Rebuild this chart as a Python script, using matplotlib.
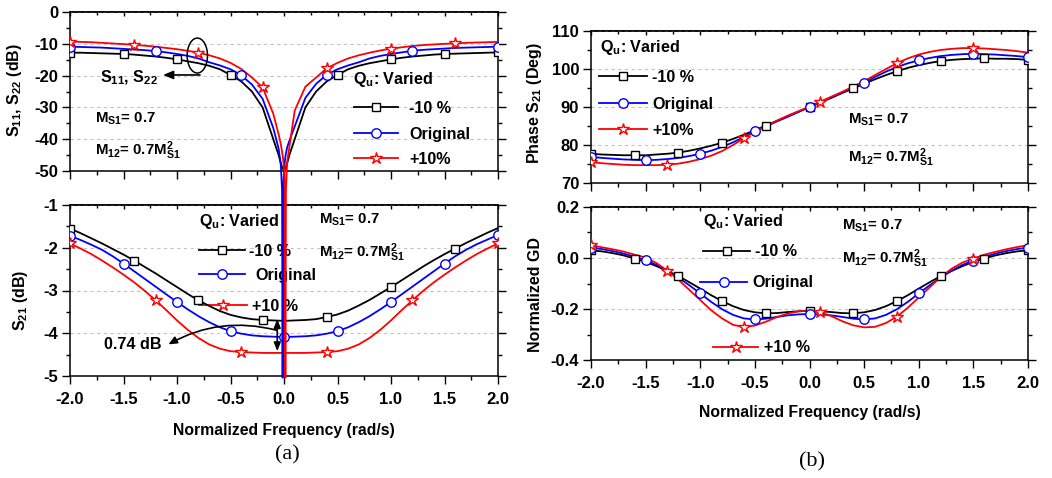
"""
Qu sensitivity of the filter response: S11/S22, S21, phase of S21 and
normalized group delay, for -10 %, original and +10 % unloaded Q.
"""

import numpy as np
import matplotlib
matplotlib.use("Agg")
import matplotlib.pyplot as plt
from matplotlib.patches import Ellipse
from matplotlib.transforms import Affine2D
from matplotlib.ticker import MultipleLocator, FormatStrFormatter

W, H = 1052, 478

# ---------------------------------------------------------------------------
# Data
# ---------------------------------------------------------------------------
FREQ = [-2.0, -1.9, -1.8, -1.7, -1.6, -1.5, -1.4, -1.3, -1.2, -1.1, -1.0,
        -0.9, -0.8, -0.7, -0.6, -0.5, -0.4, -0.3, -0.2, -0.1, 0.0,
        0.1, 0.2, 0.3, 0.4, 0.5, 0.6, 0.7, 0.8, 0.9, 1.0,
        1.1, 1.2, 1.3, 1.4, 1.5, 1.6, 1.7, 1.8, 1.9, 2.0]

# S11 needs extra samples round the notch
FREQ_S11 = [-2.0, -1.9, -1.8, -1.7, -1.6, -1.5, -1.4, -1.3, -1.2, -1.1, -1.0,
            -0.9, -0.8, -0.7, -0.6, -0.5, -0.4, -0.3, -0.2, -0.1,
            -0.05, -0.03, -0.018, -0.013, -0.008, 0.0, 0.008, 0.013, 0.018, 0.03, 0.05,
            0.1, 0.2, 0.3, 0.4, 0.5, 0.6, 0.7, 0.8, 0.9, 1.0,
            1.1, 1.2, 1.3, 1.4, 1.5, 1.6, 1.7, 1.8, 1.9, 2.0]

S11_M10 = [-12.8, -12.8, -12.9, -13.0, -13.1, -13.2, -13.4, -13.7, -14.0, -14.4, -14.9,
           -15.5, -16.1, -16.9, -18.0, -19.8, -21.8, -25.0, -30.0, -40.0,
           -45.0, -47.5, -48.8, -49.2, -49.4, -49.5, -49.4, -49.2, -48.8, -47.5, -45.0,
           -40.0, -30.0, -25.0, -21.8, -19.8, -18.0, -16.9, -16.1, -15.5, -14.9,
           -14.4, -14.0, -13.7, -13.4, -13.2, -13.1, -13.0, -12.9, -12.8, -12.7]
S11_ORIG = [-10.9, -11.0, -11.1, -11.2, -11.4, -11.6, -11.8, -12.0, -12.3, -12.7, -13.2,
            -13.8, -14.6, -15.8, -16.8, -18.0, -19.9, -22.8, -27.3, -36.5,
            -43.0, -48.0, -56.0, -115.0, -56.0, -50.0, -47.0, -45.5, -44.5, -42.5, -40.5,
            -36.0, -27.0, -22.6, -19.7, -18.0, -16.8, -15.8, -14.6, -13.8, -13.2,
            -12.7, -12.2, -11.9, -11.7, -11.5, -11.3, -11.2, -11.1, -11.0, -10.9]
S11_P10 = [-9.3, -9.4, -9.5, -9.7, -9.9, -10.1, -10.3, -10.6, -10.9, -11.3, -11.7,
           -12.2, -12.8, -13.6, -14.6, -16.0, -17.9, -20.6, -23.7, -32.0,
           -38.5, -41.5, -44.0, -45.0, -46.5, -49.0, -56.0, -115.0, -56.0, -47.0, -42.5,
           -31.0, -23.5, -20.6, -17.7, -16.0, -14.6, -13.6, -12.8, -12.1, -11.5,
           -11.1, -10.7, -10.4, -10.2, -10.0, -9.9, -9.7, -9.6, -9.5, -9.4]

S21_M10 = [-1.55, -1.66, -1.78, -1.90, -2.03, -2.16, -2.30, -2.45, -2.60, -2.76, -2.92,
           -3.08, -3.23, -3.36, -3.48, -3.57, -3.63, -3.67, -3.69, -3.70, -3.71,
           -3.70, -3.69, -3.67, -3.62, -3.56, -3.47, -3.35, -3.22, -3.07, -2.92,
           -2.76, -2.60, -2.44, -2.29, -2.15, -2.02, -1.89, -1.77, -1.65, -1.54]
S21_ORIG = [-1.72, -1.82, -1.93, -2.05, -2.20, -2.37, -2.55, -2.73, -2.91, -3.09, -3.27,
            -3.44, -3.60, -3.74, -3.86, -3.95, -4.01, -4.05, -4.07, -4.08, -4.09,
            -4.08, -4.07, -4.05, -4.01, -3.95, -3.86, -3.74, -3.60, -3.44, -3.27,
            -3.09, -2.91, -2.73, -2.55, -2.37, -2.20, -2.05, -1.92, -1.81, -1.70]
S21_P10 = [-1.90, -2.02, -2.15, -2.30, -2.46, -2.63, -2.81, -3.01, -3.23, -3.46, -3.70,
           -3.92, -4.11, -4.26, -4.36, -4.42, -4.44, -4.45, -4.46, -4.46, -4.46,
           -4.46, -4.46, -4.45, -4.44, -4.42, -4.36, -4.26, -4.11, -3.92, -3.70,
           -3.46, -3.23, -3.01, -2.81, -2.63, -2.46, -2.30, -2.15, -2.02, -1.90]

PH_M10 = [77.7, 77.5, 77.4, 77.3, 77.3, 77.3, 77.5, 77.7, 78.0, 78.5, 79.1,
          79.8, 80.6, 81.6, 82.7, 83.9, 85.1, 86.3, 87.6, 88.8, 90.0,
          91.2, 92.4, 93.7, 94.9, 96.1, 97.3, 98.4, 99.4, 100.3, 101.0,
          101.6, 102.1, 102.4, 102.6, 102.7, 102.8, 102.7, 102.7, 102.6, 102.4]
PH_ORIG = [76.9, 76.6, 76.4, 76.2, 76.1, 76.0, 76.1, 76.3, 76.6, 77.1, 77.7,
           78.5, 79.5, 80.7, 82.1, 83.6, 84.9, 86.2, 87.4, 88.7, 90.0,
           91.3, 92.6, 93.8, 95.1, 96.4, 97.9, 99.3, 100.5, 101.5, 102.3,
           102.9, 103.4, 103.7, 103.9, 104.0, 103.9, 103.8, 103.6, 103.4, 103.1]
PH_P10 = [75.5, 75.2, 75.0, 74.8, 74.7, 74.7, 74.7, 74.8, 75.1, 75.6, 76.3,
          77.2, 78.4, 80.0, 81.8, 83.5, 85.0, 86.4, 87.7, 88.9, 90.1,
          91.4, 92.7, 94.0, 95.4, 96.8, 98.4, 100.0, 101.5, 102.8, 103.8,
          104.5, 105.0, 105.3, 105.5, 105.5, 105.4, 105.2, 105.0, 104.7, 104.3]

GD_M10 = [0.030, 0.026, 0.019, 0.010, -0.002, -0.015, -0.032, -0.051, -0.071, -0.095, -0.120,
          -0.146, -0.169, -0.189, -0.204, -0.213, -0.217, -0.216, -0.212, -0.209, -0.207,
          -0.209, -0.212, -0.216, -0.217, -0.213, -0.204, -0.189, -0.169, -0.146, -0.120,
          -0.095, -0.071, -0.051, -0.032, -0.015, -0.002, 0.010, 0.019, 0.026, 0.030]
GD_ORIG = [0.041, 0.035, 0.027, 0.017, 0.005, -0.009, -0.027, -0.050, -0.077, -0.107, -0.139,
           -0.172, -0.201, -0.223, -0.237, -0.241, -0.238, -0.231, -0.225, -0.221, -0.220,
           -0.221, -0.225, -0.231, -0.238, -0.241, -0.237, -0.223, -0.201, -0.172, -0.139,
           -0.107, -0.077, -0.050, -0.027, -0.011, 0.004, 0.017, 0.027, 0.035, 0.041]
GD_P10 = [0.050, 0.042, 0.034, 0.025, 0.013, 0.002, -0.020, -0.050, -0.085, -0.125, -0.165,
          -0.205, -0.237, -0.262, -0.271, -0.265, -0.250, -0.232, -0.218, -0.209, -0.207,
          -0.213, -0.228, -0.248, -0.264, -0.272, -0.270, -0.255, -0.230, -0.195, -0.155,
          -0.115, -0.075, -0.042, -0.018, -0.002, 0.013, 0.024, 0.034, 0.043, 0.050]

# frequencies where Origin put the symbols
MK_S11 = {"m10": [-2.0, -1.5, -1.0, -0.5, 0.5, 1.0, 1.5, 2.0],
          "orig": [-2.0, -1.2, -0.4, 0.4, 1.2, 2.0],
          "p10": [-2.0, -1.4, -0.8, -0.2, 0.4, 1.0, 1.6]}
MK_S21 = {"m10": [-2.0, -1.4, -0.8, -0.2, 0.4, 1.0, 1.6],
          "orig": [-2.0, -1.5, -1.0, -0.5, 0.0, 0.5, 1.0, 1.5, 2.0],
          "p10": [-2.0, -1.2, -0.4, 0.4, 1.2, 2.0]}
MK_RIGHT = {"m10": [-2.0, -1.6, -1.2, -0.8, -0.4, 0.0, 0.4, 0.8, 1.2, 1.6, 2.0],
            "orig": [-2.0, -1.5, -1.0, -0.5, 0.0, 0.5, 1.0, 1.5, 2.0],
            "p10": [-2.0, -1.3, -0.6, 0.1, 0.8, 1.5]}

STYLE = {"m10": dict(color="black", marker="s", ms=5.8),
         "orig": dict(color="#0000ff", marker="o", ms=6.8),
         "p10": dict(color="#ff0000", marker="*", ms=9.0)}

LW = 1.3
FS = 11.6     # legend / annotation text
plt.rcParams.update({
    "font.family": ["Liberation Sans", "DejaVu Sans"],
    "font.weight": "bold",
    "axes.unicode_minus": False,
    "mathtext.fontset": "custom",
    "mathtext.rm": "Liberation Sans:bold",
    "mathtext.it": "Liberation Sans:bold",
    "mathtext.bf": "Liberation Sans:bold",
    "mathtext.default": "bf",
})


def mark_idx(freq, marks):
    f = np.asarray(freq)
    return [int(np.argmin(np.abs(f - m))) for m in marks]


def curve(ax, freq, vals, key, marks, clip=True):
    st = STYLE[key]
    ax.plot(freq, vals, color=st["color"], lw=LW, clip_on=clip, zorder=3)
    ax.plot(freq, vals, ls="none", marker=st["marker"], ms=st["ms"],
            mfc="white", mec=st["color"], mew=1.0,
            markevery=mark_idx(freq, marks), zorder=4)


def style_axes(ax, ylim, ymaj, ymin, yfmt, xlabels):
    ax.set_xlim(-2, 2)
    ax.set_ylim(*ylim)
    ax.xaxis.set_major_locator(MultipleLocator(0.5))
    ax.xaxis.set_minor_locator(MultipleLocator(0.25))
    ax.xaxis.set_major_formatter(FormatStrFormatter("%.1f"))
    ax.yaxis.set_major_locator(MultipleLocator(ymaj))
    ax.yaxis.set_minor_locator(MultipleLocator(ymin))
    ax.yaxis.set_major_formatter(FormatStrFormatter(yfmt))
    ax.tick_params(which="both", direction="out", width=1.0, labelsize=12,
                   right=True, colors="black")
    ax.tick_params(which="major", length=5.5)
    ax.tick_params(which="minor", length=3)
    ax.tick_params(axis="y", pad=3)
    ax.tick_params(axis="x", pad=6, labelbottom=xlabels)
    for s in ax.spines.values():
        s.set_linewidth(1.1)
    ax.grid(axis="y", which="major", ls=(0, (3, 3)), color="#c4c4c4", lw=0.8)
    ax.set_axisbelow(True)
    top = ax.secondary_xaxis("top")
    top.xaxis.set_major_locator(MultipleLocator(0.5))
    top.xaxis.set_minor_locator(MultipleLocator(0.25))
    top.tick_params(which="both", direction="in", labeltop=False, width=1.0)
    top.tick_params(which="major", length=3)
    top.tick_params(which="minor", length=2)
    top.spines["top"].set_linewidth(1.1)


fig = plt.figure(figsize=(W / 100, H / 100), dpi=100)
PX = Affine2D().scale(1 / W, -1 / H).translate(0, 1) + fig.transFigure


def box(x0, y0, x1, y1):
    return [x0 / W, 1 - y1 / H, (x1 - x0) / W, (y1 - y0) / H]


def txt(ax, x, y, s, size=FS, **kw):
    ax.text(x, y, s, transform=PX, fontsize=size, fontweight="bold",
            va=kw.pop("va", "baseline"), clip_on=False, **kw)


def legend_rows(ax, rows):
    # rows: (key, line x0, line x1, y centre, text x, label) in pixels
    for key, x0, x1, y, tx, label in rows:
        st = STYLE[key]
        ax.plot([x0, x1], [y, y], transform=PX, color=st["color"], lw=LW,
                clip_on=False)
        ax.plot([(x0 + x1) / 2], [y], transform=PX, marker=st["marker"],
                ms=st["ms"], mfc="white", mec=st["color"], mew=1.0,
                clip_on=False)
        txt(ax, tx, y + 5.8, label)


def mlabels(ax, x, y1, y2):
    txt(ax, x, y1, r"M$_{S1}$= 0.7", size=10.8)
    txt(ax, x, y2, r"M$_{12}$= 0.7M$^{2}_{S1}$", size=10.8)


# ---------------------------------------------------------------------------
# (a) top: S11, S22
# ---------------------------------------------------------------------------
ax1 = fig.add_axes(box(70, 12, 498, 171))
ax2 = fig.add_axes(box(70, 205, 498, 376))
ax1.set_zorder(3)
ax1.patch.set_alpha(0)

for key, vals in (("m10", S11_M10), ("orig", S11_ORIG), ("p10", S11_P10)):
    curve(ax1, FREQ_S11, vals, key, MK_S11[key], clip=False)
style_axes(ax1, (-50, 0), 10, 5, "%d", False)

ax1.add_patch(Ellipse((-0.81, -13.7), 0.19, 11.0, fill=False, ec="black",
                      lw=1.1, zorder=5))
ax1.annotate("", xy=(-1.13, -19.8), xytext=(-0.785, -19.8),
             arrowprops=dict(arrowstyle="-|>,head_length=0.6,head_width=0.25",
                             color="black", lw=1.2, shrinkA=0, shrinkB=0))
txt(ax1, 100, 82, r"S$_{11}$, S$_{22}$")
txt(ax1, 353, 84, r"Q$_{u}$: Varied")
legend_rows(ax1, [("m10", 354, 398, 107, 409, "-10 %"),
                  ("orig", 354, 398, 133, 409, "Original"),
                  ("p10", 354, 398, 158, 409, "+10%")])
mlabels(ax1, 95, 122.5, 155)
ax1.text(15, 90, r"S$_{11}$, S$_{22}$ (dB)", transform=PX, rotation=90,
         ha="center", va="center", fontsize=11.5, fontweight="bold")

# ---------------------------------------------------------------------------
# (a) bottom: S21
# ---------------------------------------------------------------------------
for key, vals in (("m10", S21_M10), ("orig", S21_ORIG), ("p10", S21_P10)):
    curve(ax2, FREQ, vals, key, MK_S21[key])
style_axes(ax2, (-5, -1), 1, 0.5, "%d", True)

ax2.annotate("", xy=(-0.063, -3.67), xytext=(-0.063, -4.42),
             arrowprops=dict(arrowstyle="<|-|>,head_length=0.5,head_width=0.2",
                             color="black", lw=1.2, shrinkA=0, shrinkB=0))
ax2.annotate("", xy=(-1.08, -4.26), xytext=(-0.068, -3.93),
             arrowprops=dict(arrowstyle="-|>,head_length=0.5,head_width=0.22",
                             connectionstyle="arc3,rad=0.2",
                             color="black", lw=1.2, shrinkA=0, shrinkB=0))
txt(ax2, 104, 349.5, "0.74 dB")
txt(ax2, 199, 226, r"Q$_{u}$: Varied")
legend_rows(ax2, [("m10", 199, 245, 250, 249, "-10 %"),
                  ("orig", 199, 245, 274, 255, "Original"),
                  ("p10", 199, 247, 305, 252, "+10 %")])
mlabels(ax2, 319, 223.5, 257)
ax2.text(20, 300, r"S$_{21}$ (dB)", transform=PX, rotation=90,
         ha="center", va="center", fontsize=11.5, fontweight="bold")
fig.text(284 / W, 1 - 430 / H, "Normalized Frequency (rad/s)",
         ha="center", va="center", fontsize=11.3, fontweight="bold")
fig.text(287 / W, 1 - 455 / H, "(a)", ha="center", va="center",
         fontsize=16, fontweight="normal", family="Liberation Serif")

# ---------------------------------------------------------------------------
# (b) top: phase of S21
# ---------------------------------------------------------------------------
ax3 = fig.add_axes(box(591, 31, 1028, 183))
for key, vals in (("m10", PH_M10), ("orig", PH_ORIG), ("p10", PH_P10)):
    curve(ax3, FREQ, vals, key, MK_RIGHT[key])
style_axes(ax3, (70, 110), 10, 5, "%d", False)

txt(ax3, 600, 52, r"Q$_{u}$: Varied")
legend_rows(ax3, [("m10", 599, 647, 76, 652, "-10 %"),
                  ("orig", 599, 647, 103.3, 652, "Original"),
                  ("p10", 599, 647, 129.3, 652, "+10%")])
mlabels(ax3, 848, 123.5, 162)
ax3.text(535, 103, r"Phase S$_{21}$ (Deg)", transform=PX, rotation=90,
         ha="center", va="center", fontsize=11.5, fontweight="bold")

# ---------------------------------------------------------------------------
# (b) bottom: normalized group delay
# ---------------------------------------------------------------------------
ax4 = fig.add_axes(box(591, 207, 1028, 360))
for key, vals in (("m10", GD_M10), ("orig", GD_ORIG), ("p10", GD_P10)):
    curve(ax4, FREQ, vals, key, MK_RIGHT[key])
style_axes(ax4, (-0.4, 0.2), 0.2, 0.1, "%.1f", True)

txt(ax4, 703, 226, r"Q$_{u}$: Varied")
legend_rows(ax4, [("m10", 703, 750, 250.7, 755, "-10 %"),
                  ("orig", 700, 747, 281.7, 752, "Original"),
                  ("p10", 713, 758, 346.7, 764, "+10 %")])
mlabels(ax4, 842, 230, 263.5)
ax4.text(535, 295, "Normalized GD", transform=PX, rotation=90,
         ha="center", va="center", fontsize=11.5, fontweight="bold")
fig.text(810 / W, 1 - 412 / H, "Normalized Frequency (rad/s)",
         ha="center", va="center", fontsize=11.3, fontweight="bold")
fig.text(812 / W, 1 - 462 / H, "(b)", ha="center", va="center",
         fontsize=16, fontweight="normal", family="Liberation Serif")

fig.savefig("out.png", dpi=100)
